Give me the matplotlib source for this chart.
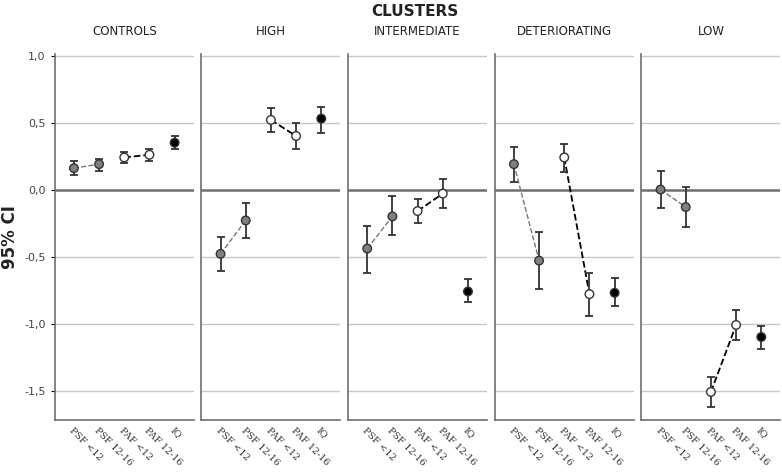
import matplotlib; matplotlib.use("Agg")
import matplotlib.pyplot as plt
import numpy as np

clusters = ["CONTROLS", "HIGH", "INTERMEDIATE", "DETERIORATING", "LOW"]
measures = ["PSF <12", "PSF 12-16", "PAF <12", "PAF 12-16", "IQ"]
means = {
    "CONTROLS":      [0.16, 0.19, 0.24, 0.26, 0.35],
    "HIGH":          [-0.48, -0.23, 0.52, 0.40, 0.53],
    "INTERMEDIATE":  [-0.44, -0.20, -0.16, -0.03, -0.76],
    "DETERIORATING": [0.19, -0.53, 0.24, -0.78, -0.77],
    "LOW":           [0.00, -0.13, -1.51, -1.01, -1.10],
}
lows = {
    "CONTROLS":      [0.11, 0.14, 0.20, 0.21, 0.30],
    "HIGH":          [-0.61, -0.36, 0.43, 0.30, 0.42],
    "INTERMEDIATE":  [-0.62, -0.34, -0.25, -0.14, -0.84],
    "DETERIORATING": [0.06, -0.74, 0.13, -0.94, -0.87],
    "LOW":           [-0.14, -0.28, -1.62, -1.12, -1.19],
}
highs = {
    "CONTROLS":      [0.21, 0.23, 0.28, 0.30, 0.40],
    "HIGH":          [-0.35, -0.10, 0.61, 0.50, 0.62],
    "INTERMEDIATE":  [-0.27, -0.05, -0.07, 0.08, -0.67],
    "DETERIORATING": [0.32, -0.32, 0.34, -0.62, -0.66],
    "LOW":           [0.14, 0.02, -1.40, -0.90, -1.02],
}
face = ["#7f7f7f", "#7f7f7f", "white", "white", "black"]

fig, axes = plt.subplots(1, 5, figsize=(7.82, 4.72), dpi=100, sharey=True)
fig.subplots_adjust(left=0.07, right=0.998, top=0.885, bottom=0.11, wspace=0.055)
x = np.arange(1, 6)
for ax, c in zip(axes, clusters):
    m, lo, hi = np.array(means[c]), np.array(lows[c]), np.array(highs[c])
    for y in [1.0, 0.5, -0.5, -1.0, -1.5]:
        ax.axhline(y, color="#c8c8c8", lw=1, zorder=0)
    ax.axhline(0, color="#6e6e6e", lw=1.8, zorder=1)
    ax.plot(x[:2], m[:2], ls="--", color="#777777", lw=1, zorder=2)
    ax.plot(x[2:4], m[2:4], ls="--", color="black", lw=1.3, zorder=2)
    ax.errorbar(x, m, yerr=[m - lo, hi - m], fmt="none", ecolor="#333333",
                elinewidth=1.3, capsize=3, capthick=1.3, zorder=3)
    ax.scatter(x, m, s=38, c=face, edgecolors="#333333", linewidths=1, zorder=4)
    ax.set_xlim(0.24, 5.76); ax.set_ylim(-1.72, 1.01)
    ax.set_title(c, fontsize=8.5, color="#222222", pad=14)
    ax.set_xticks(x)
    ax.set_xticklabels(measures, rotation=-45, ha="left", rotation_mode="anchor",
                       fontsize=6.8, family="DejaVu Serif", color="#333333")
    ax.tick_params(axis="x", length=0, pad=4)
    for s in ["top", "right"]: ax.spines[s].set_visible(False)
    for s in ["left", "bottom"]:
        ax.spines[s].set_color("#6e6e6e"); ax.spines[s].set_linewidth(1.2)
axes[0].set_yticks([1.0, 0.5, 0.0, -0.5, -1.0, -1.5])
axes[0].set_yticklabels(["1,0", "0,5", "0,0", "-0,5", "-1,0", "-1,5"], fontsize=8, color="#444444")
axes[0].tick_params(axis="y", length=3)
for ax in axes[1:]: ax.tick_params(axis="y", length=0)
axes[0].set_ylabel("95% CI", fontsize=12, fontweight="bold", color="#222222")
fig.text(0.53, 0.975, "CLUSTERS", ha="center", va="center", fontsize=11, fontweight="bold", color="#222222")
fig.savefig("out.png", dpi=100)
